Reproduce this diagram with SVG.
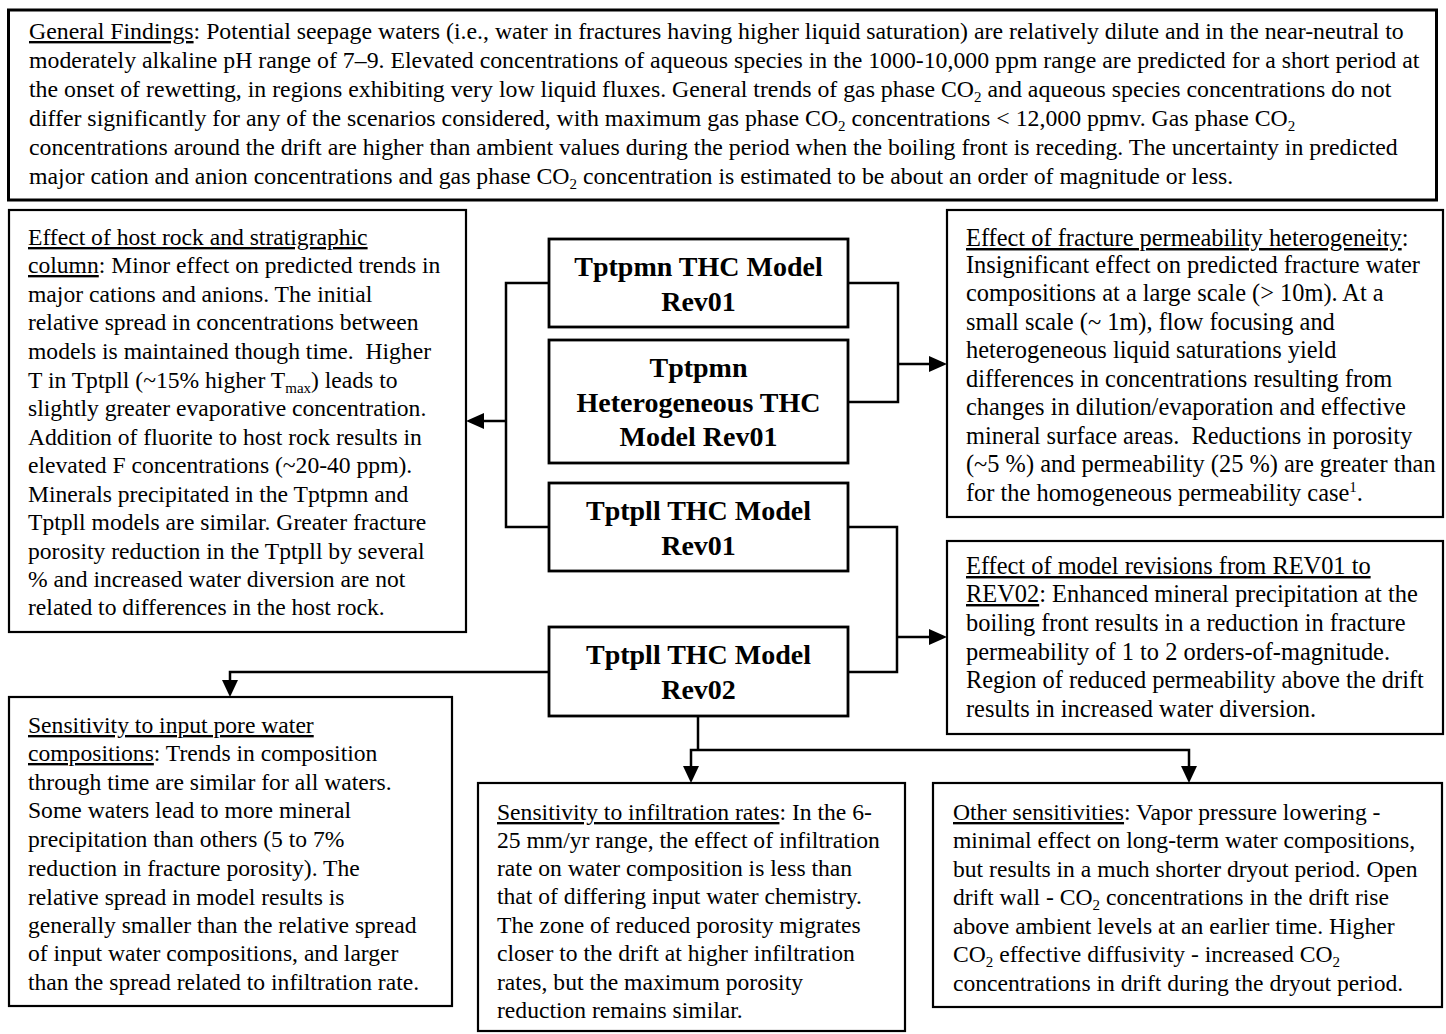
<svg xmlns="http://www.w3.org/2000/svg" width="1446" height="1034" viewBox="0 0 1446 1034">
<style>
.t{font-family:"Liberation Serif","Times New Roman",serif;font-size:23.6px;fill:#000}
.tt{font-size:23.8px}
.tr{font-size:24.4px}
.n{font-family:"Liberation Serif","Times New Roman",serif;font-size:28px;font-weight:bold;text-anchor:middle;fill:#000}
.u{text-decoration:underline}
.box{fill:#fff;stroke:#000;stroke-width:2.2}
.thick{stroke-width:3}
.node{fill:#fff;stroke:#000;stroke-width:2.8}
.c{fill:none;stroke:#000;stroke-width:2.5}
</style>
<rect width="1446" height="1034" fill="#fff"/>

<g id="general">
<rect class="box thick" x="8.5" y="10" width="1428" height="190"/>
<text class="t tt" x="29" y="39"><tspan class="u">General Findings</tspan>: Potential seepage waters (i.e., water in fractures having higher liquid saturation) are relatively dilute and in the near-neutral to</text>
<text class="t tt" x="29" y="68">moderately alkaline pH range of 7–9. Elevated concentrations of aqueous species in the 1000-10,000 ppm range are predicted for a short period at</text>
<text class="t tt" x="29" y="97">the onset of rewetting, in regions exhibiting very low liquid fluxes. General trends of gas phase CO<tspan font-size="15" dy="5">2</tspan><tspan dy="-5"> and aqueous species concentrations do not</tspan></text>
<text class="t tt" x="29" y="126">differ significantly for any of the scenarios considered, with maximum gas phase CO<tspan font-size="15" dy="5">2</tspan><tspan dy="-5"> concentrations &lt; 12,000 ppmv. Gas phase CO</tspan><tspan font-size="15" dy="5">2</tspan></text>
<text class="t tt" x="29" y="155">concentrations around the drift are higher than ambient values during the period when the boiling front is receding. The uncertainty in predicted</text>
<text class="t tt" x="29" y="184">major cation and anion concentrations and gas phase CO<tspan font-size="15" dy="5">2</tspan><tspan dy="-5"> concentration is estimated to be about an order of magnitude or less.</tspan></text>
</g>

<g id="host-rock">
<rect class="box" x="9" y="210" width="457" height="422"/>
<text class="t" x="28" y="245"><tspan class="u">Effect of host rock and stratigraphic</tspan></text>
<text class="t" x="28" y="273"><tspan class="u">column</tspan>: Minor effect on predicted trends in</text>
<text class="t" x="28" y="302">major cations and anions. The initial</text>
<text class="t" x="28" y="330">relative spread in concentrations between</text>
<text class="t" x="28" y="359">models is maintained though time.&#160; Higher</text>
<text class="t" x="28" y="388">T in Tptpll (~15% higher T<tspan font-size="15" dy="5">max</tspan><tspan dy="-5">) leads to</tspan></text>
<text class="t" x="28" y="416">slightly greater evaporative concentration.</text>
<text class="t" x="28" y="445">Addition of fluorite to host rock results in</text>
<text class="t" x="28" y="473">elevated F concentrations (~20-40 ppm).</text>
<text class="t" x="28" y="502">Minerals precipitated in the Tptpmn and</text>
<text class="t" x="28" y="530">Tptpll models are similar. Greater fracture</text>
<text class="t" x="28" y="559">porosity reduction in the Tptpll by several</text>
<text class="t" x="28" y="587">% and increased water diversion are not</text>
<text class="t" x="28" y="615">related to differences in the host rock.</text>
</g>

<g id="node-tptpmn-rev01">
<rect class="node" x="549" y="239" width="299" height="88"/>
<text class="n" x="698.5" y="276">Tptpmn THC Model</text>
<text class="n" x="698.5" y="311">Rev01</text>
</g>

<g id="node-tptpmn-het">
<rect class="node" x="549" y="340" width="299" height="123"/>
<text class="n" x="698.5" y="377">Tptpmn</text>
<text class="n" x="698.5" y="412">Heterogeneous THC</text>
<text class="n" x="698.5" y="446">Model Rev01</text>
</g>

<g id="node-tptpll-rev01">
<rect class="node" x="549" y="483" width="299" height="88"/>
<text class="n" x="698.5" y="520">Tptpll THC Model</text>
<text class="n" x="698.5" y="555">Rev01</text>
</g>

<g id="node-tptpll-rev02">
<rect class="node" x="549" y="627" width="299" height="89"/>
<text class="n" x="698.5" y="664">Tptpll THC Model</text>
<text class="n" x="698.5" y="699">Rev02</text>
</g>

<g id="heterogeneity">
<rect class="box" x="947" y="210" width="496" height="307"/>
<text class="t tr" x="966" y="246"><tspan class="u">Effect of fracture permeability heterogeneity</tspan>:</text>
<text class="t tr" x="966" y="273">Insignificant effect on predicted fracture water</text>
<text class="t tr" x="966" y="301">compositions at a large scale (&gt; 10m). At a</text>
<text class="t tr" x="966" y="330">small scale (~ 1m), flow focusing and</text>
<text class="t tr" x="966" y="358">heterogeneous liquid saturations yield</text>
<text class="t tr" x="966" y="387">differences in concentrations resulting from</text>
<text class="t tr" x="966" y="415">changes in dilution/evaporation and effective</text>
<text class="t tr" x="966" y="444">mineral surface areas.&#160; Reductions in porosity</text>
<text class="t tr" x="966" y="472">(~5 %) and permeability (25 %) are greater than</text>
<text class="t tr" x="966" y="501">for the homogeneous permeability case<tspan font-size="15" dy="-9">1</tspan><tspan dy="9">.</tspan></text>
</g>

<g id="revisions">
<rect class="box" x="947" y="541" width="496" height="193"/>
<text class="t tr" x="966" y="574"><tspan class="u">Effect of model revisions from REV01 to</tspan></text>
<text class="t tr" x="966" y="602"><tspan class="u">REV02</tspan>: Enhanced mineral precipitation at the</text>
<text class="t tr" x="966" y="631">boiling front results in a reduction in fracture</text>
<text class="t tr" x="966" y="660">permeability of 1 to 2 orders-of-magnitude.</text>
<text class="t tr" x="966" y="688">Region of reduced permeability above the drift</text>
<text class="t tr" x="966" y="717">results in increased water diversion.</text>
</g>

<g id="pore-water">
<rect class="box" x="9" y="697" width="443" height="309"/>
<text class="t" x="28" y="733"><tspan class="u">Sensitivity to input pore water</tspan></text>
<text class="t" x="28" y="761"><tspan class="u">compositions</tspan>: Trends in composition</text>
<text class="t" x="28" y="790">through time are similar for all waters.</text>
<text class="t" x="28" y="818">Some waters lead to more mineral</text>
<text class="t" x="28" y="847">precipitation than others (5 to 7%</text>
<text class="t" x="28" y="876">reduction in fracture porosity). The</text>
<text class="t" x="28" y="905">relative spread in model results is</text>
<text class="t" x="28" y="933">generally smaller than the relative spread</text>
<text class="t" x="28" y="961">of input water compositions, and larger</text>
<text class="t" x="28" y="990">than the spread related to infiltration rate.</text>
</g>

<g id="infiltration">
<rect class="box" x="478" y="783" width="427" height="248"/>
<text class="t" x="497" y="820"><tspan class="u">Sensitivity to infiltration rates</tspan>: In the 6-</text>
<text class="t" x="497" y="848">25 mm/yr range, the effect of infiltration</text>
<text class="t" x="497" y="876">rate on water composition is less than</text>
<text class="t" x="497" y="904">that of differing input water chemistry.</text>
<text class="t" x="497" y="933">The zone of reduced porosity migrates</text>
<text class="t" x="497" y="961">closer to the drift at higher infiltration</text>
<text class="t" x="497" y="990">rates, but the maximum porosity</text>
<text class="t" x="497" y="1018">reduction remains similar.</text>
</g>

<g id="other">
<rect class="box" x="933" y="783" width="509" height="224"/>
<text class="t" x="953" y="820"><tspan class="u">Other sensitivities</tspan>: Vapor pressure lowering -</text>
<text class="t" x="953" y="848">minimal effect on long-term water compositions,</text>
<text class="t" x="953" y="877">but results in a much shorter dryout period. Open</text>
<text class="t" x="953" y="905">drift wall - CO<tspan font-size="15" dy="5">2</tspan><tspan dy="-5"> concentrations in the drift rise</tspan></text>
<text class="t" x="953" y="934">above ambient levels at an earlier time. Higher</text>
<text class="t" x="953" y="962">CO<tspan font-size="15" dy="5">2</tspan><tspan dy="-5"> effective diffusivity - increased CO</tspan><tspan font-size="15" dy="5">2</tspan></text>
<text class="t" x="953" y="991">concentrations in drift during the dryout period.</text>
</g>

<g id="connectors">
<path class="c" d="M549,283 H506 V527 H549"/>
<path class="c" d="M506,421 H482"/>
<polygon points="466,421 484,413 484,429" fill="#000"/>
<path class="c" d="M848,283 H898 V402 H848"/>
<path class="c" d="M898,364 H931"/>
<polygon points="947,364 929,356 929,372" fill="#000"/>
<path class="c" d="M848,527 H897 V672 H848"/>
<path class="c" d="M897,637 H931"/>
<polygon points="947,637 929,629 929,645" fill="#000"/>
<path class="c" d="M549,672 H230 V682"/>
<polygon points="230,697 222,680 238,680" fill="#000"/>
<path class="c" d="M698,716 V750"/>
<path class="c" d="M691,767 V750 H1189 V767"/>
<polygon points="691,783 683,766 699,766" fill="#000"/>
<polygon points="1189,783 1181,766 1197,766" fill="#000"/>
</g>
</svg>
